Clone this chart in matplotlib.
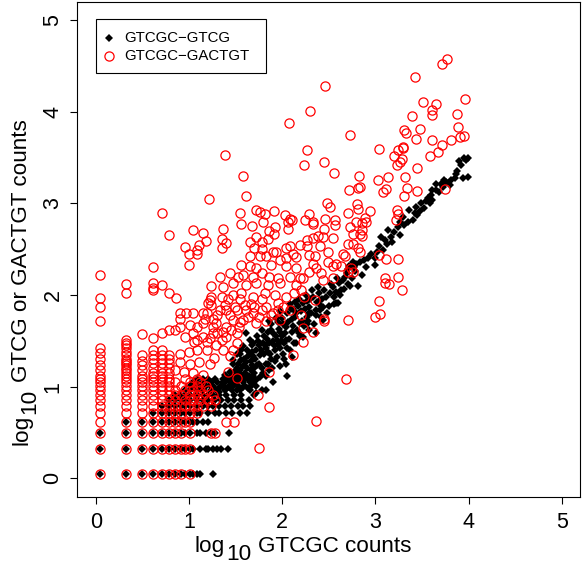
import numpy as np
import matplotlib
matplotlib.use("Agg")
import matplotlib.pyplot as plt
from matplotlib.patches import Rectangle

plt.rcParams['font.family'] = ['Liberation Sans', 'DejaVu Sans']

# ---------------- data (log10 of counts + 0.1) ----------------
# black series (GTCGC-GTCG): low-count grid, rows of equal GTCG count
black_rows_y = [1, 2, 3, 4, 5, 6, 7, 8, 9, 10, 11, 12]
black_rows_x = [
    [1, 2, 3, 4, 5, 6, 7, 8, 9, 10, 11, 12, 13, 18],
    [1, 2, 3, 4, 5, 6, 7, 8, 9, 10, 11, 13, 15, 16, 18, 20, 22, 26],
    [1, 2, 3, 4, 5, 6, 7, 8, 9, 10, 12, 13, 15, 17, 19, 27],
    [2, 3, 4, 5, 6, 7, 8, 9, 10, 11, 12, 14, 16],
    [4, 5, 6, 7, 8, 9, 10, 12, 13, 16, 19, 21, 25, 29, 35, 42],
    [5, 6, 7, 8, 9, 10, 12, 14, 16, 18, 21, 24, 28, 33, 38, 45],
    [6, 7, 8, 9, 10, 12, 14, 16, 19, 22, 26, 30, 36, 44],
    [7, 8, 9, 10, 12, 14, 16, 18, 21, 25, 30, 36, 50],
    [9, 10, 12, 14, 17, 20, 24, 29, 35, 45, 60],
    [10, 11, 13, 15, 18, 22, 27, 33, 40, 52],
    [11, 12, 14, 17, 20, 24, 30, 38, 48],
    [12, 14, 16, 19, 23, 28, 34, 44],
]
# black series: higher counts (log10 values)
black_band_x = [
    3.99, 3.97, 3.95, 3.92, 3.90, 3.99, 3.94, 3.86, 3.81, 3.76,
    3.74, 3.70, 3.65, 3.65, 3.61, 3.60, 3.61, 3.54, 3.49, 3.44,
    3.42, 3.45, 3.36, 3.29, 3.26, 3.31, 3.24, 3.20, 3.26, 3.17,
    3.13, 3.10, 3.06, 3.04, 3.08, 3.02, 2.92, 2.88, 2.83, 2.79,
    2.76, 2.72, 2.99, 2.85, 2.81, 2.69, 2.65, 2.61, 2.58, 2.60,
    2.54, 2.51, 2.47, 2.44, 2.38, 2.40, 2.36, 2.29, 2.26, 2.22,
    2.29, 2.40, 2.36, 2.44, 2.15, 2.10, 2.19, 2.04, 1.97, 1.90,
    1.94, 1.86, 1.79, 1.83, 1.72, 1.76, 1.69, 1.65, 1.61, 1.67,
    1.56, 1.58, 1.51, 1.47, 1.54, 1.44, 1.40, 1.49, 1.36, 1.45,
    1.33, 1.40, 1.29, 1.83, 1.72, 1.79, 1.86, 1.97, 2.04, 2.01,
    2.08, 2.15, 2.04, 2.22, 2.29, 2.36, 1.65, 1.58, 1.51, 1.61,
    1.47, 1.69, 1.61, 1.65, 1.22, 1.15, 1.51, 1.63, 1.72, 1.75,
    1.80, 1.85, 1.90, 1.95, 2.00, 2.05, 2.10, 2.12, 2.18, 2.25,
    2.30, 2.32, 2.20, 2.00, 1.92, 1.88, 1.82, 1.70, 1.75, 1.68,
    1.78, 1.88, 1.98, 2.08, 1.85, 1.95, 2.02, 1.62, 1.55, 1.50,
    1.58, 1.66, 1.92, 2.10, 2.18, 2.26, 2.48, 2.55, 2.62, 2.66,
    2.70, 2.75, 2.78, 2.90, 2.95, 3.00, 3.12, 3.18, 3.35, 3.40,
    3.48, 3.52, 3.58, 3.56, 3.68, 3.72, 3.80, 3.85, 3.88, 1.90,
    2.05, 2.58,
]
black_band_y = [
    3.49, 3.47, 3.49, 3.42, 3.46, 3.29, 3.28, 3.32, 3.25, 3.23,
    3.25, 3.21, 3.21, 3.14, 3.14, 3.09, 3.04, 3.02, 3.00, 2.96,
    2.89, 2.87, 2.93, 2.85, 2.80, 2.76, 2.74, 2.69, 2.65, 2.63,
    2.71, 2.60, 2.63, 2.53, 2.49, 2.47, 2.40, 2.38, 2.36, 2.34,
    2.36, 2.31, 2.33, 2.22, 2.10, 2.24, 2.16, 2.13, 2.03, 1.91,
    2.09, 2.02, 1.98, 1.87, 2.09, 1.94, 1.84, 1.80, 1.76, 1.91,
    1.87, 1.84, 1.78, 1.73, 1.80, 1.74, 1.69, 1.65, 1.60, 1.58,
    1.51, 1.47, 1.47, 1.42, 1.40, 1.34, 1.33, 1.36, 1.27, 1.24,
    1.29, 1.22, 1.20, 1.25, 1.15, 1.16, 1.11, 1.09, 1.05, 1.04,
    1.00, 0.98, 0.96, 0.96, 1.07, 1.15, 1.18, 1.22, 1.25, 1.36,
    1.40, 1.47, 1.51, 1.54, 1.62, 1.58, 1.51, 1.44, 1.36, 1.58,
    1.29, 1.11, 1.09, 1.05, 1.02, 0.96, 0.96, 0.98, 0.93, 1.45,
    1.55, 1.60, 1.50, 1.70, 1.75, 1.80, 1.60, 1.85, 1.95, 2.00,
    1.95, 2.05, 1.82, 1.55, 1.40, 1.30, 1.25, 1.20, 1.25, 1.45,
    1.62, 1.68, 1.82, 1.90, 1.38, 1.45, 1.48, 1.40, 1.35, 1.12,
    1.00, 1.18, 1.28, 1.32, 1.58, 1.68, 1.80, 1.90, 2.00, 2.06,
    2.12, 2.18, 2.26, 2.30, 2.45, 2.40, 2.55, 2.58, 2.80, 2.82,
    2.92, 2.95, 3.00, 3.06, 3.12, 3.18, 3.20, 3.28, 3.35, 1.05,
    1.12, 1.91,
]
# black series: the dense middle of the band
black_core_x = [
    1.32, 1.35, 1.38, 1.42, 1.43, 1.46, 1.48, 1.39, 1.50, 1.52,
    1.53, 1.55, 1.57, 1.59, 1.56, 1.49, 1.60, 1.54, 1.62, 1.63,
    1.64, 1.66, 1.67, 1.68, 1.70, 1.71, 1.73, 1.74, 1.76, 1.77,
    1.78, 1.80, 1.73, 1.69, 1.81, 1.82, 1.84, 1.85, 1.87, 1.88,
    1.89, 1.91, 1.93, 1.94, 1.96, 1.97, 1.99, 1.86, 1.93, 2.01,
    2.02, 2.03, 2.05, 2.06, 2.07, 2.09, 2.11, 2.13, 2.14, 2.16,
    2.17, 2.19, 2.21, 2.14, 2.23, 2.24, 2.27, 2.28, 2.31, 2.33,
    2.34, 2.37, 2.39, 2.41, 2.43, 2.45, 2.42, 2.50, 2.52, 2.56,
    2.59, 2.63, 2.67, 2.71, 2.73, 2.77,
]
black_core_y = [
    0.94, 1.02, 0.96, 1.08, 0.99, 1.12, 1.02, 1.13, 1.05, 1.25,
    1.00, 1.18, 1.10, 1.30, 1.40, 1.17, 1.15, 1.08, 1.20, 1.33,
    1.12, 1.28, 1.02, 1.38, 1.15, 1.30, 1.24, 1.50, 1.10, 1.40,
    1.20, 1.35, 1.55, 1.48, 1.45, 1.12, 1.52, 1.25, 1.35, 1.62,
    1.20, 1.45, 1.55, 1.32, 1.63, 1.42, 1.50, 1.72, 1.75, 1.68,
    1.30, 1.58, 1.42, 1.70, 1.52, 1.85, 1.66, 1.48, 1.76, 1.62,
    1.88, 1.55, 1.72, 1.92, 1.66, 1.85, 1.93, 1.72, 1.80, 1.98,
    1.68, 1.92, 2.02, 1.76, 1.95, 2.05, 1.88, 1.88, 2.12, 1.98,
    2.18, 2.05, 2.20, 2.28, 2.10, 2.30,
]

# red series (GTCGC-GACTGT): columns of equal GTCGC count (x counts 1..6)
red_cols_x = [1, 2, 3, 4, 5, 6]
red_cols_ycount = [
    [1, 2, 3, 4, 5, 6, 7, 8, 9, 10, 11, 12, 13, 15, 17, 20, 23, 26],
    [1, 2, 3, 4, 5, 6, 7, 8, 9, 10, 11, 12, 13, 14, 15, 16, 17, 18, 19, 20,
     22, 24, 26, 28, 30, 32],
    [1, 2, 3, 4, 5, 6, 7, 8, 9, 10, 11, 12, 13, 15, 17, 19, 22],
    [1, 2, 3, 4, 5, 6, 7, 8, 9, 10, 11, 12, 13, 14, 16, 18, 20, 22, 25],
    [1, 2, 3, 4, 5, 6, 7, 8, 9, 10, 11, 12, 13, 14, 16, 18, 20, 22, 25],
    [1, 2, 3, 4, 5, 6, 7, 8, 9, 10, 11, 12, 14, 16, 18, 20, 22],
]
red_cols_ylog = [
    [1.72, 1.87, 1.97, 2.22],
    [2.02, 2.12],
    [1.57],
    [1.53, 2.05, 2.08, 2.13, 2.30],
    [1.58, 2.11],
    [1.62, 2.02, 2.65],
]
# red series: rows of equal GACTGT count (x counts >= 7)
red_rows_y = [1, 2, 3, 4, 5, 6, 7, 8, 9, 10, 11, 12]
red_rows_x = [
    [7, 8, 10],
    [7, 8, 9, 10],
    [7, 8, 10, 17, 19],
    [7, 8, 9, 10, 25, 30],
    [7, 8, 10, 12],
    [7, 8, 9, 10, 12, 14, 17],
    [7, 9, 10, 11, 13, 16, 19],
    [7, 8, 10, 12, 14, 18],
    [7, 9, 11, 13, 16],
    [8, 10, 12, 15],
    [7, 10, 13],
    [9, 12],
]
# red series: remaining points (log10 values)
red_x = [
    # upper right
    2.73, 2.56, 3.04, 3.42, 3.71, 3.77, 3.96, 3.51, 3.65, 3.61,
    3.61, 3.39, 3.87, 3.89, 3.31, 3.33, 3.48, 3.43, 3.61, 3.81,
    3.91, 3.95, 3.71, 3.29, 3.30, 3.24, 3.20, 3.67, 3.58, 3.28,
    3.26, 3.23, 3.45, 2.82, 3.03, 3.13, 3.32, 2.81, 2.83, 2.72,
    3.11, 3.08, 3.34, 3.45, 3.31, 3.75,
    2.46, 2.30, 2.07, 0.71, 1.81, 2.06, 1.91, 2.27, 2.23, 2.45,
    # middle right
    2.48, 2.51, 2.80, 2.81, 2.70, 2.94, 3.23, 2.29, 2.24, 2.33,
    2.33, 2.46, 2.57, 2.57, 2.89, 2.90, 2.79, 2.85, 2.73, 3.24,
    3.22, 2.45, 2.85, 2.83, 2.86, 2.76, 2.44, 2.54, 2.26, 2.33,
    2.38, 2.71, 2.76, 2.81, 2.65, 2.49, 2.26, 2.29, 2.35, 2.40,
    2.83, 3.04, 3.11, 3.24, 2.33, 2.49, 2.58, 2.67, 2.63, 2.54,
    2.36, 2.42, 2.29, 2.22, 2.44, 2.54, 2.74, 2.71, 2.76, 3.10,
    3.24, 3.10, 3.14, 3.28, 2.20, 2.23, 2.35, 3.04, 2.99, 3.05,
    2.70, 2.20,
    # middle
    1.38, 1.58, 1.61, 1.21, 1.55, 1.72, 1.76, 1.91, 2.03, 2.08,
    2.10, 1.56, 1.67, 1.79, 1.92, 2.06, 1.86, 1.36, 1.15, 1.35,
    1.40, 1.18, 1.11, 1.35, 1.72, 1.78, 1.85, 1.65, 1.70, 1.78,
    1.90, 1.93, 2.04, 2.08, 2.11, 2.19, 1.65, 1.76, 1.83, 1.97,
    2.04, 2.15, 1.56, 1.65, 1.72, 1.88, 2.04, 2.15, 1.44, 1.52,
    1.58, 1.69, 1.78, 1.86, 1.95, 2.08, 2.19, 1.33, 1.24, 1.36,
    1.47, 1.61, 1.72, 1.85, 1.97, 2.15, 1.24, 1.35, 1.47, 1.56,
    1.69, 1.81, 1.92, 2.04, 2.13, 1.24, 1.38, 1.49, 1.60, 1.70,
    1.83, 1.95,
    # left middle
    0.96, 1.00, 1.00, 1.08, 1.08, 1.04, 0.90, 0.90, 0.97, 1.04,
    1.08, 1.01, 0.90, 1.19, 1.20, 1.22, 1.17, 1.26, 1.26, 1.40,
    1.44, 1.51, 1.47, 1.58, 1.40, 1.54, 0.96, 1.05, 1.08, 1.15,
    1.19, 1.22, 1.29, 1.35, 1.40, 1.51, 1.47, 1.27, 1.36, 1.44,
    1.19, 1.08, 1.00, 0.90, 0.85, 0.86,
    0.85, 0.94, 1.04, 1.15, 0.90, 1.01, 1.11, 1.22, 1.04, 1.26,
    1.36, 1.51, 1.15, 1.29, 1.15, 1.33, 1.69, 1.78, 1.90, 2.01,
    2.08, 1.97, 1.83, 1.72, 1.61, 1.51, 1.42, 1.86, 2.11, 2.22,
    2.33, 1.74, 1.86, 1.75, 2.36, 2.68, 2.45, 2.45, 2.22,
    1.30, 1.45, 1.55, 1.63, 1.75, 1.88, 1.95, 1.66, 1.78, 1.55,
    1.42, 1.30,
]
red_y = [
    3.74, 3.33, 3.59, 4.38, 4.52, 4.57, 4.14, 4.10, 4.08, 4.02,
    3.96, 3.95, 3.97, 3.83, 3.80, 3.77, 3.81, 3.70, 3.69, 3.69,
    3.72, 3.73, 3.63, 3.61, 3.60, 3.58, 3.52, 3.56, 3.51, 3.48,
    3.45, 3.42, 3.38, 3.30, 3.25, 3.29, 3.29, 3.17, 3.18, 3.14,
    3.16, 3.12, 3.17, 3.13, 3.08, 3.15,
    4.28, 4.01, 3.87, 2.89, 2.88, 2.80, 2.66, 3.58, 3.42, 3.45,
    3.00, 2.96, 2.99, 2.94, 2.89, 2.91, 2.93, 2.88, 2.82, 2.80,
    2.77, 2.83, 2.82, 2.76, 2.84, 2.80, 2.80, 2.78, 2.74, 2.88,
    2.82, 2.72, 2.71, 2.66, 2.64, 2.66, 2.63, 2.62, 2.60, 2.62,
    2.64, 2.56, 2.56, 2.51, 2.45, 2.47, 2.53, 2.44, 2.42, 2.53,
    2.47, 2.44, 2.39, 2.39, 2.34, 2.36, 2.34, 2.42, 2.31, 2.31,
    2.29, 2.24, 2.25, 2.18, 2.16, 2.18, 2.29, 2.25, 2.25, 2.18,
    2.20, 2.13, 2.12, 2.05, 2.05, 1.98, 1.94, 1.93, 1.76, 1.79,
    1.73, 1.78,
    3.53, 3.30, 3.08, 3.05, 2.89, 2.93, 2.90, 2.91, 2.87, 2.83,
    2.82, 2.77, 2.75, 2.79, 2.74, 2.72, 2.70, 2.72, 2.68, 2.61,
    2.57, 2.59, 2.54, 2.51, 2.63, 2.58, 2.61, 2.58, 2.51, 2.50,
    2.47, 2.47, 2.51, 2.53, 2.45, 2.54, 2.42, 2.42, 2.42, 2.38,
    2.40, 2.41, 2.33, 2.31, 2.29, 2.33, 2.31, 2.29, 2.24, 2.20,
    2.22, 2.20, 2.24, 2.20, 2.18, 2.20, 2.18, 2.20, 2.10, 2.09,
    2.13, 2.11, 2.13, 2.11, 2.13, 2.11, 1.98, 1.98, 2.00, 2.02,
    1.98, 2.02, 2.00, 1.98, 2.02, 1.89, 1.89, 1.87, 1.89, 1.87,
    1.87, 1.91,
    2.52, 2.45, 2.33, 2.45, 2.49, 2.71, 1.80, 1.74, 1.80, 1.80,
    1.65, 1.67, 1.65, 1.80, 1.91, 1.94, 1.74, 1.74, 1.65, 1.84,
    1.78, 1.84, 1.73, 1.73, 1.65, 1.65, 1.54, 1.49, 1.51, 1.54,
    1.49, 1.53, 1.45, 1.51, 1.54, 1.47, 1.40, 1.31, 1.40, 1.33,
    1.40, 1.40, 1.38, 1.36, 1.62, 1.97,
    1.18, 1.16, 1.15, 1.13, 1.27, 1.25, 1.27, 1.25, 1.58, 1.58,
    1.60, 1.58, 1.69, 1.69, 1.80, 1.84, 1.80, 1.84, 1.80, 1.87,
    1.84, 1.73, 1.71, 1.69, 1.84, 1.09, 1.16, 1.16, 1.34, 1.49,
    1.60, 0.91, 0.78, 0.33, 0.62, 1.08, 1.74, 1.71, 1.64,
    1.58, 1.62, 1.70, 1.76, 1.76, 1.78, 1.84, 1.90, 1.95, 1.95,
    1.95, 1.78,
]

legend_labels = ["GTCGC\u2212GTCG", "GTCGC\u2212GACTGT"]
x_ticks = [0, 1, 2, 3, 4, 5]
y_ticks = [0, 1, 2, 3, 4, 5]


def lg(c):
    return np.log10(np.asarray(c, dtype=float) + 0.1)


# assemble series
bx, by = [], []
for yc, xs in zip(black_rows_y, black_rows_x):
    bx += list(lg(xs))
    by += [float(lg(yc))] * len(xs)
bx += black_band_x + black_core_x
by += black_band_y + black_core_y

rx, ry = [], []
for xc, ycs, ylogs in zip(red_cols_x, red_cols_ycount, red_cols_ylog):
    rx += [float(lg(xc))] * (len(ycs) + len(ylogs))
    ry += list(lg(ycs)) + list(ylogs)
for yc, xs in zip(red_rows_y, red_rows_x):
    rx += list(lg(xs))
    ry += [float(lg(yc))] * len(xs)
rx += red_x
ry += red_y

# ---------------- figure ----------------
W, H = 582, 569
fig = plt.figure(figsize=(W / 100, H / 100), dpi=100)
L, R, T, B = 77.3, 580.5, 1.5, 496.6
ax = fig.add_axes([L / W, (H - B) / H, (R - L) / W, (B - T) / H])
ax.set_xlim(-0.2, 5.2)
ax.set_ylim(-0.2, 5.2)

ax.plot(bx, by, linestyle='none', marker='D', ms=4.2, color='black', mew=0)
ax.plot(rx, ry, linestyle='none', marker='o', ms=6.6, mfc='none',
        mec='#ff0000', mew=0.9)

for s in ax.spines.values():
    s.set_linewidth(0.8)
ax.set_xticks(x_ticks)
ax.set_yticks(y_ticks)
ax.tick_params(direction='out', length=5, width=0.8, labelsize=15.5)
ax.tick_params(axis='x', pad=6)
ax.tick_params(axis='y', pad=5)
for lab in ax.get_yticklabels():
    lab.set_rotation(90)
    lab.set_va('center')

# axis labels with full-size lowered subscript (R plotmath look)
fs_lab = 16.2
renderer = fig.canvas.get_renderer()
sub_off = 8.0  # pixels


def px(x, y):
    return x / W, 1 - y / H


# x label
x0, yb = 195.0, 552.0
t1 = fig.text(*px(x0, yb), "log", fontsize=fs_lab, ha='left', va='baseline')
w1 = t1.get_window_extent(renderer).width
t2 = fig.text(*px(x0 + w1 + 1, yb + sub_off), "10", fontsize=fs_lab,
              ha='left', va='baseline')
w2 = t2.get_window_extent(renderer).width
fig.text(*px(x0 + w1 + 1 + w2 + 6, yb), "GTCGC counts", fontsize=fs_lab,
         ha='left', va='baseline')

# y label (rotated)
xb, y0 = 27.0, 445.0
u1 = fig.text(*px(xb, y0), "log", fontsize=fs_lab, rotation=90,
              rotation_mode='anchor', ha='left', va='baseline')
h1 = u1.get_window_extent(renderer).height
u2 = fig.text(*px(xb + sub_off, y0 - h1 - 1), "10", fontsize=fs_lab,
              rotation=90, rotation_mode='anchor', ha='left', va='baseline')
h2 = u2.get_window_extent(renderer).height
fig.text(*px(xb, y0 - h1 - 1 - h2 - 6), "GTCG or GACTGT counts",
         fontsize=fs_lab, rotation=90, rotation_mode='anchor',
         ha='left', va='baseline')


# legend (R style box)
def axfx(p):
    return (p - L) / (R - L)


def axfy(p):
    return (B - p) / (B - T)


ax.add_patch(Rectangle((axfx(96.3), axfy(72.7)), axfx(265.7) - axfx(96.3),
                       axfy(19) - axfy(72.7), transform=ax.transAxes,
                       fill=False, edgecolor='black', linewidth=0.8,
                       clip_on=False, zorder=5))
ax.plot([axfx(109)], [axfy(37.7)], transform=ax.transAxes, marker='D',
        ms=4.2, color='black', mew=0, linestyle='none', zorder=6)
ax.plot([axfx(109)], [axfy(55.7)], transform=ax.transAxes, marker='o',
        ms=6.6, mfc='none', mec='#ff0000', mew=0.9, linestyle='none', zorder=6)
ax.text(axfx(124), axfy(37.7), legend_labels[0], transform=ax.transAxes,
        fontsize=10.8, va='center', ha='left', zorder=6)
ax.text(axfx(124), axfy(55.7), legend_labels[1], transform=ax.transAxes,
        fontsize=10.8, va='center', ha='left', zorder=6)

fig.savefig("out.png", dpi=100)
